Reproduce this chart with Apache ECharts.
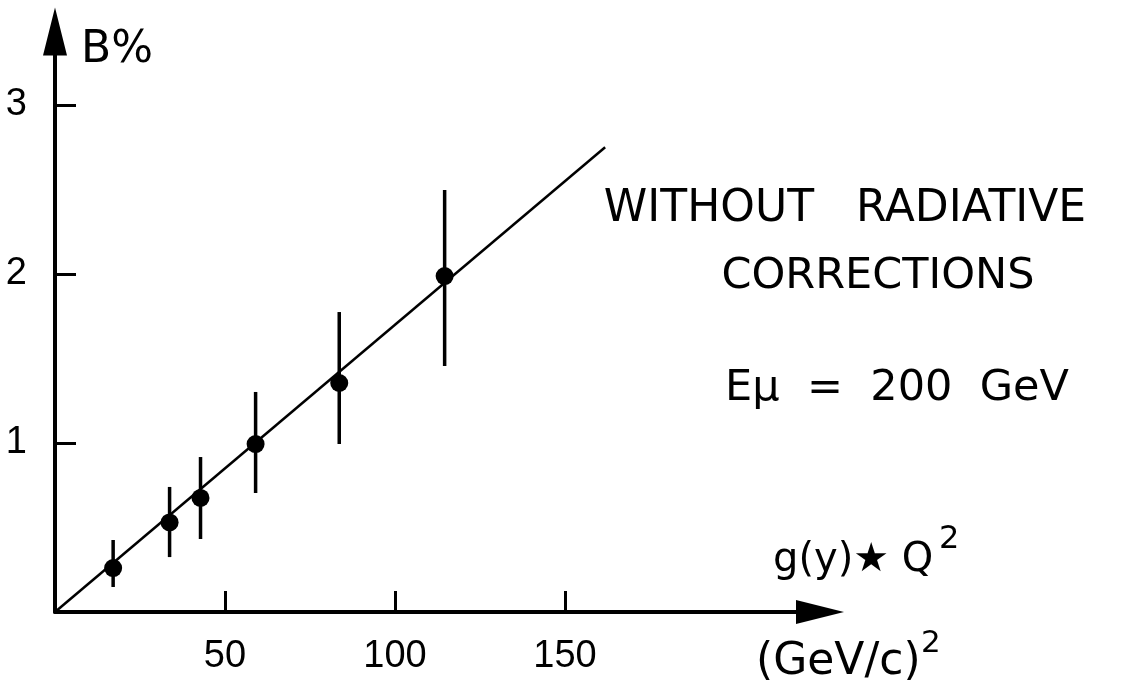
<!DOCTYPE html>
<html>
<head>
<meta charset="utf-8">
<script src="https://cdn.jsdelivr.net/npm/echarts@6/dist/echarts.min.js"></script>
<style>
  html, body { margin: 0; padding: 0; background: #fff; }
  #chart { width: 1145px; height: 686px; }
</style>
</head>
<body>
<div id="chart"></div>
<script>
// measured points: g(y)*Q^2 (GeV/c)^2 vs B %
const xVals = [17.1, 33.7, 42.8, 59.0, 83.6, 114.6];
const bVals = [0.26, 0.53, 0.675, 0.994, 1.355, 1.988];
const errLow = [0.148, 0.325, 0.432, 0.704, 0.994, 1.456];
const errHigh = [0.426, 0.74, 0.917, 1.302, 1.775, 2.497];
// straight-line fit through origin
const fitX = [0, 161.8];
const fitY = [0, 2.75];
const xTicks = [50, 100, 150];
const yTicks = [1, 2, 3];

const F = 'DejaVu Sans';
const NUMF = 'Liberation Sans';

const chart = echarts.init(document.getElementById('chart'));

function txt(x, y, text, size, align) {
  return {
    type: 'text', x: x, y: y, silent: true,
    style: {
      text: text, fontSize: size, fontFamily: F, fill: '#000',
      align: align, verticalAlign: 'middle',
      textAlign: align, textVerticalAlign: 'middle'
    }
  };
}

chart.setOption({
  animation: false,
  backgroundColor: '#fff',
  grid: { left: 55, right: 325, top: 31.5, bottom: 74 },
  xAxis: {
    type: 'value', min: 0, max: 225,
    axisLine: { lineStyle: { color: '#000', width: 4 }, symbol: ['none', 'triangle'], symbolSize: [24, 48] },
    axisTick: { inside: true, length: 21, lineStyle: { color: '#000', width: 3 }, customValues: xTicks },
    axisLabel: { customValues: xTicks, color: '#000', fontSize: 38, fontFamily: NUMF, margin: 26 },
    splitLine: { show: false }
  },
  yAxis: {
    type: 'value', min: 0, max: 3.435,
    axisLine: { lineStyle: { color: '#000', width: 4 }, symbol: ['none', 'triangle'], symbolSize: [24, 48] },
    axisTick: { inside: true, length: 21, lineStyle: { color: '#000', width: 3 }, customValues: yTicks },
    axisLabel: { customValues: yTicks, color: '#000', fontSize: 38, fontFamily: NUMF, margin: 28 },
    splitLine: { show: false }
  },
  series: [
    {
      type: 'line',
      data: fitX.map((x, i) => [x, fitY[i]]),
      showSymbol: false,
      lineStyle: { color: '#000', width: 2.5 },
      z: 1
    },
    {
      type: 'custom',
      data: xVals.map((x, i) => [x, errLow[i], errHigh[i]]),
      encode: { x: 0, y: [1, 2] },
      renderItem: (params, api) => {
        const lo = api.coord([api.value(0), api.value(1)]);
        const hi = api.coord([api.value(0), api.value(2)]);
        return {
          type: 'line',
          shape: { x1: lo[0], y1: lo[1], x2: hi[0], y2: hi[1] },
          style: { stroke: '#000', lineWidth: 3.5 }
        };
      },
      z: 2
    },
    {
      type: 'scatter',
      data: xVals.map((x, i) => [x, bVals[i]]),
      symbol: 'circle',
      symbolSize: 18,
      itemStyle: { color: '#000', opacity: 1 },
      z: 3
    }
  ],
  graphic: [
    txt(81, 51, 'B%', 44, 'left'),
    txt(845, 210, 'WITHOUT   RADIATIVE', 44, 'center'),
    txt(878, 277, 'CORRECTIONS', 43, 'center'),
    txt(897, 389, 'Eμ  =  200  GeV', 43, 'center'),
    txt(773, 561, 'g(y)★ Q', 40, 'left'),
    txt(939, 540, '2', 32, 'left'),
    txt(756, 663, '(GeV/c)', 44, 'left'),
    txt(921, 644, '2', 31, 'left')
  ]
});
</script>
</body>
</html>
